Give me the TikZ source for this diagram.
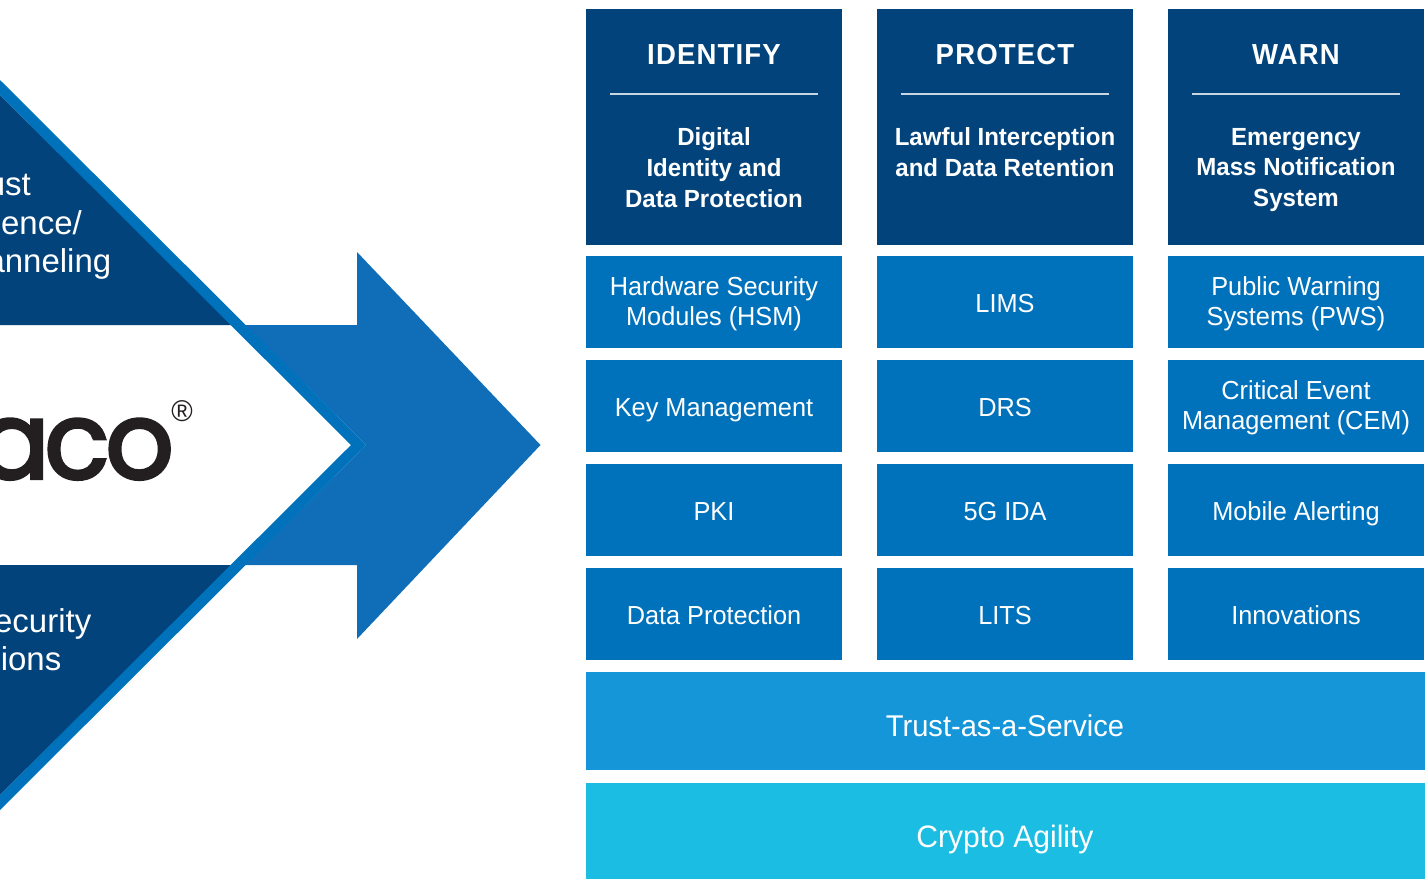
\documentclass[tikz,border=0pt]{standalone}
\usepackage{fontspec}
\setmainfont{Liberation Sans}[FakeStretch=0.97]
\newfontfamily\sidefont{Liberation Sans}
\newfontfamily\logofont{Poppins}[FakeBold=3]
\newfontfamily\headfont{Liberation Sans}[LetterSpace=4,FakeStretch=0.95]
\definecolor{navy}{HTML}{02437B}
\definecolor{midblue}{HTML}{0072BC}
\definecolor{arrowblue}{HTML}{106EB8}
\definecolor{trustblue}{HTML}{1496D8}
\definecolor{cryptoblue}{HTML}{1CBDE2}
\definecolor{logoblack}{HTML}{231F20}
\newcommand{\strutted}[1]{\strut #1\strut}
\tikzset{
  base/.style={inner sep=0pt,outer sep=0pt,text=white,align=center,anchor=center},
  headbox/.style={base,fill=navy,minimum width=256pt,minimum height=236pt},
  itembox/.style={base,fill=midblue,minimum width=256pt,minimum height=92pt},
  itemtext/.style={base,font=\fontsize{26.1}{30.5}\selectfont},
  barbox/.style={base,minimum width=839pt},
  headword/.style={base,font=\headfont\bfseries\fontsize{29}{34}\selectfont},
  subtitle/.style={base,font=\bfseries\fontsize{24.8}{30.7}\selectfont,anchor=north},
  sidetext/.style={inner sep=0pt,text=white,anchor=base east,font=\sidefont\fontsize{33}{38}\selectfont},
  rulewhite/.style={draw=white!78!navy,line width=1.3pt}
}
\begin{document}
\begin{tikzpicture}[x=1pt,y=-1pt]
\useasboundingbox (0,0) rectangle (1426,879);
\clip (0,0) rectangle (1426,879);
% big arrow
\fill[arrowblue] (245,325) -- (357,325) -- (357,252) -- (540.5,445) -- (357,639) -- (357,565) -- (245,565) -- (366,445) -- cycle;
% dark corners
\fill[navy] (0,95) -- (232,325) -- (0,325) -- cycle;
\fill[navy] (0,795) -- (232,565) -- (0,565) -- cycle;
% chevron
\fill[midblue] (0,80) -- (366,445) -- (0,810) -- (0,795) -- (351,445) -- (0,95) -- cycle;
% side texts
\node[sidetext] (t1) at (31,195) {ust};
\node[sidetext] (t2) at (82,234) {ence/};
\node[sidetext] (t3) at (111.5,272) {anneling};
\node[sidetext] (t4) at (91.5,632) {ecurity};
\node[sidetext] (t5) at (61.5,670) {ions};
% logo
\node[inner sep=0pt,anchor=base east,text=logoblack,font=\logofont\fontsize{107}{107}\selectfont] (logo) at (174,478.5) {a\kern-5.5pt c\kern-4pt o};
\node[inner sep=0pt,text=logoblack,font=\fontsize{30}{30}\selectfont] (reg) at (182,411) {®};
% headers
\foreach \n/\cx/\word in {a/714/IDENTIFY,b/1005/PROTECT,c/1296/WARN}{
  \node[headbox] (head\n) at (\cx,127) {};
  \node[headword] (word\n) at (\cx,54.5) {\word};
  \coordinate (l\n) at (\cx-104,94);
  \coordinate (r\n) at (\cx+104,94);
  \draw[rulewhite] (l\n) -- (r\n);
}
\node[subtitle] (suba) at (714,128) {Digital\\Identity and\\Data Protection};
\node[subtitle] (subb) at (1005,128) {Lawful Interception\\and Data Retention};
\node[subtitle] (subc) at (1296,128) {Emergency\\Mass Notification\\System};
% items
\foreach \n/\cx/\cy in {a1/714/302,a2/714/406,a3/714/510,a4/714/614,b1/1005/302,b2/1005/406,b3/1005/510,b4/1005/614,c1/1296/302,c2/1296/406,c3/1296/510,c4/1296/614}{
  \node[itembox] (\n) at (\cx,\cy) {};
}
\node[itemtext] (ta1) at (714,304.4) {\strutted{Hardware Security\\Modules (HSM)}};
\node[itemtext] (ta2) at (714,410) {\strutted{Key Management}};
\node[itemtext] (ta3) at (714,514) {\strutted{PKI}};
\node[itemtext] (ta4) at (714,618) {\strutted{Data Protection}};
\node[itemtext] (tb1) at (1005,306) {\strutted{LIMS}};
\node[itemtext] (tb2) at (1005,410) {\strutted{DRS}};
\node[itemtext] (tb3) at (1005,514) {\strutted{5G IDA}};
\node[itemtext] (tb4) at (1005,618) {\strutted{LITS}};
\node[itemtext] (tc1) at (1296,304.4) {\strutted{Public Warning\\Systems (PWS)}};
\node[itemtext] (tc2) at (1296,408.4) {\strutted{Critical Event\\Management (CEM)}};
\node[itemtext] (tc3) at (1296,514) {\strutted{Mobile Alerting}};
\node[itemtext] (tc4) at (1296,618) {\strutted{Innovations}};
% bars
\node[barbox,fill=trustblue,minimum height=98pt] (trust) at (1005.5,721) {};
\node[barbox,fill=cryptoblue,minimum height=96pt] (crypto) at (1005.5,831) {};
\node[base,font=\fontsize{30}{34}\selectfont] (ttrust) at (1005,730) {\strut Trust-as-a-Service\strut};
\node[base,font=\fontsize{31}{34}\selectfont] (tcrypto) at (1005,841) {\strut Crypto Agility\strut};
\end{tikzpicture}
\end{document}
